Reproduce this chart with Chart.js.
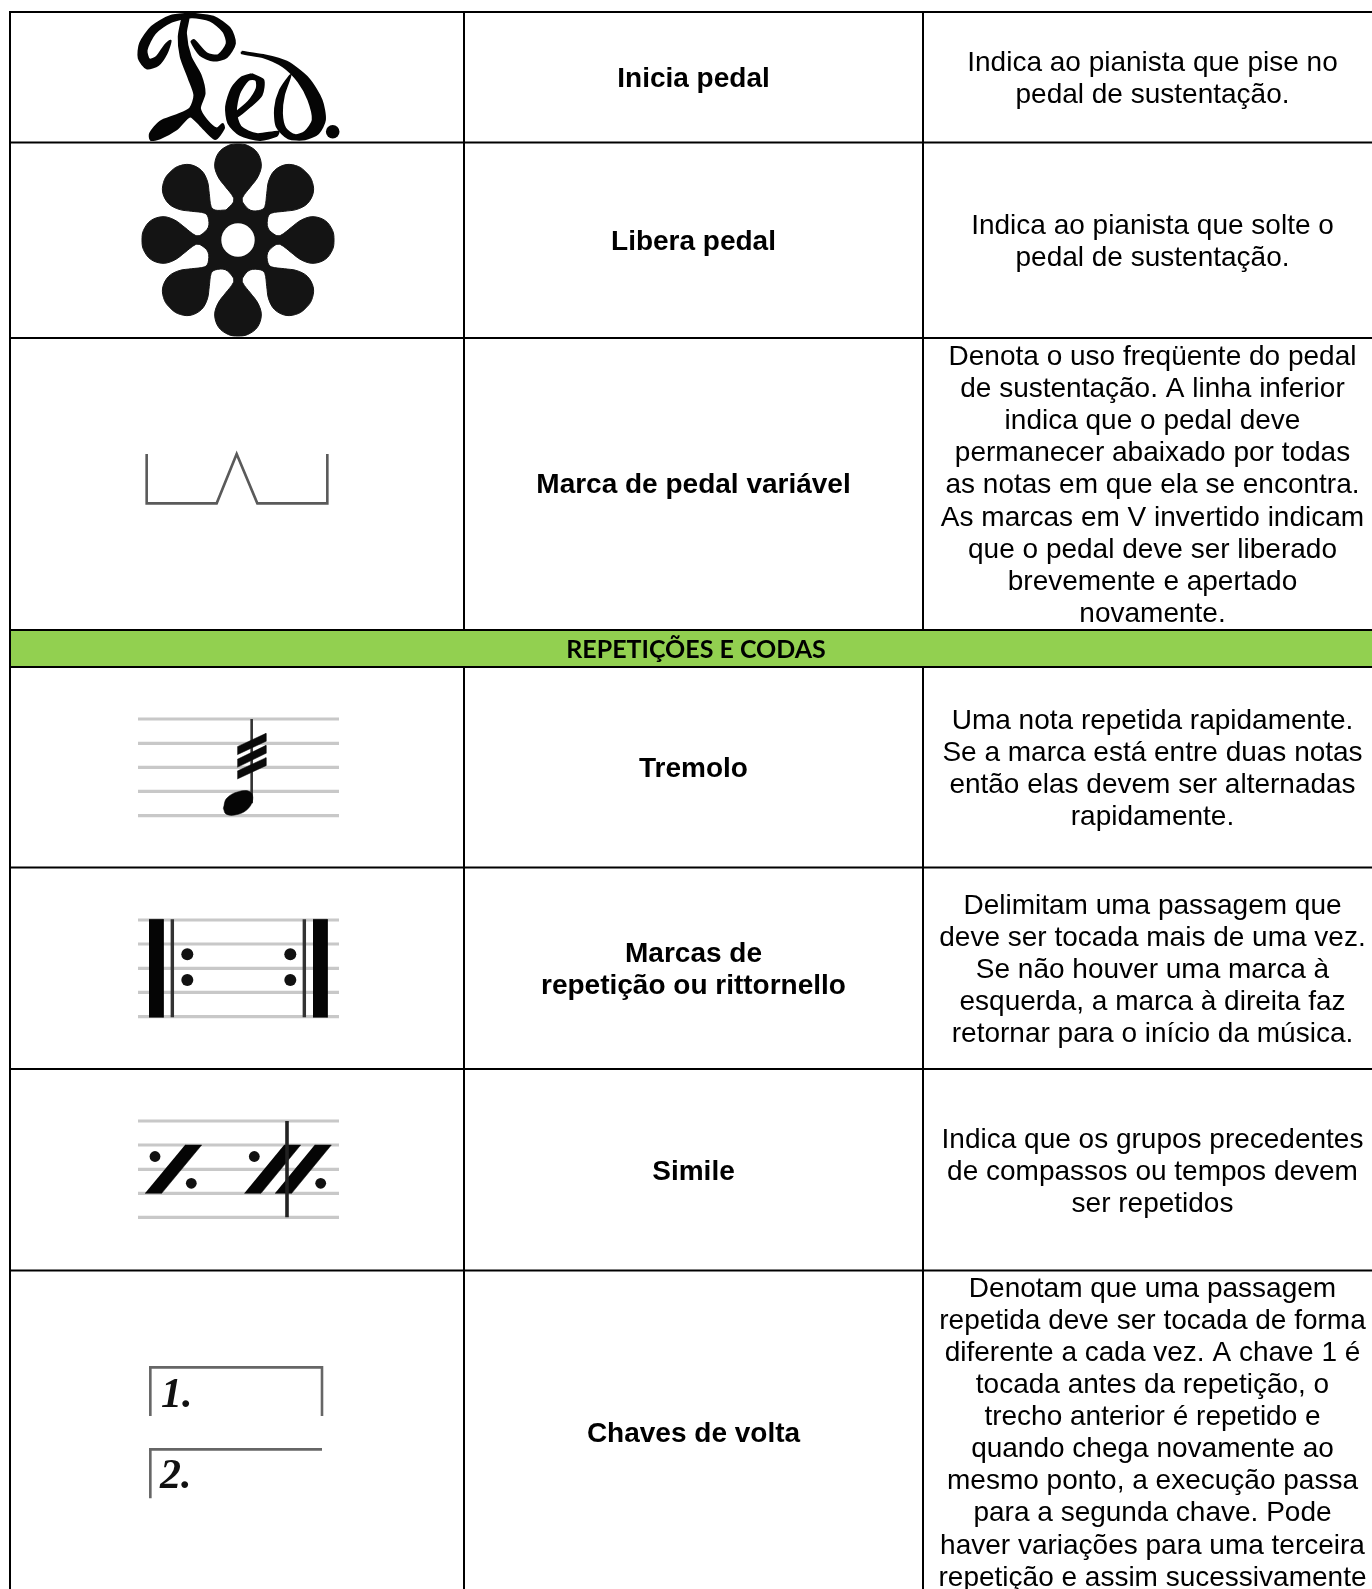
<!DOCTYPE html>
<html>
<head>
<meta charset="utf-8">
<style>
html, body { margin: 0; padding: 0; background: #fff; }
canvas { display: block; }
</style>
<script src="https://cdn.jsdelivr.net/npm/chart.js@4"></script>
</head>
<body>
<canvas id="tabela" width="1372" height="1589"></canvas>
<script>
// table rules
const rowLines = [12, 142.5, 338, 630, 667, 867.5, 1069, 1270.5];
const colLines = [464, 923];
const leftEdge = 10;

// text of the table, one entry per drawn line: [text, middle of the line]
const names = [
  ["Inicia pedal", 79.5], ["Libera pedal", 242], ["Marca de pedal variável", 485],
  ["Tremolo", 769], ["Marcas de", 954.5], ["repetição ou rittornello", 986.5],
  ["Simile", 1172.5], ["Chaves de volta", 1434.5]
];
const bandTitle = ["REPETIÇÕES E CODAS", 650];
const notes = [
  ["Indica ao pianista que pise no", 63.2], ["pedal de sustentação.", 95.2],
  ["Indica ao pianista que solte o", 226], ["pedal de sustentação.", 258],
  ["Denota o uso freqüente do pedal", 357], ["de sustentação. A linha inferior", 389],
  ["indica que o pedal deve", 421], ["permanecer abaixado por todas", 453.5],
  ["as notas em que ela se encontra.", 485.5], ["As marcas em V invertido indicam", 518],
  ["que o pedal deve ser liberado", 550], ["brevemente e apertado", 582], ["novamente.", 614],
  ["Uma nota repetida rapidamente.", 721.5], ["Se a marca está entre duas notas", 753.5],
  ["então elas devem ser alternadas", 785.5], ["rapidamente.", 817.5],
  ["Delimitam uma passagem que", 906], ["deve ser tocada mais de uma vez.", 938],
  ["Se não houver uma marca à", 970], ["esquerda, a marca à direita faz", 1002],
  ["retornar para o início da música.", 1034],
  ["Indica que os grupos precedentes", 1140], ["de compassos ou tempos devem", 1172],
  ["ser repetidos", 1204],
  ["Denotam que uma passagem", 1289], ["repetida deve ser tocada de forma", 1321],
  ["diferente a cada vez. A chave 1 é", 1353], ["tocada antes da repetição, o", 1385],
  ["trecho anterior é repetido e", 1417], ["quando chega novamente ao", 1449],
  ["mesmo ponto, a execução passa", 1481], ["para a segunda chave. Pode", 1513],
  ["haver variações para uma terceira", 1546], ["repetição e assim sucessivamente", 1578]
];

// staves of the three engraved cells
const tremoloStaff = [719, 743.3, 767.3, 791.3, 815.7];
const repeatStaff = [920, 944, 968.3, 992.3, 1016.7];
const simileStaff = [1121, 1145, 1169.3, 1193.3, 1217.3];
const staffFrom = 138, staffTo = 339;

const pedTopLoop = [[0, 0], [572,40],[510,48],[455,80],[420,130],[416,175],[440,205],[475,195],[500,160],[512,122],[495,135],[470,170],[448,178],[440,150],[465,100],[515,65],[575,52],[630,62],[670,95],[680,130],[655,165],[620,160],[582,120],[574,125],[600,165],[640,182],[680,172],[705,130],[690,85],[640,50],[572,40]];
const pedStem = [[0, 0], [548,48],[566,48],[558,100],[572,170],[602,225],[614,280],[600,325],[620,360],[650,385],[668,372],[672,385],[645,417],[600,375],[570,350],[530,388],[480,415],[452,420],[450,400],[480,365],[530,345],[570,325],[583,285],[566,235],[542,170],[536,110],[548,48]];
const pedE = [[0, 0], [755,222],[790,240],[785,285],[750,320],[712,350],[708,338],[745,305],[770,265],[768,240],[745,240],[718,280],[708,335],[722,380],[770,402],[835,395],[830,408],[780,420],[720,405],[685,370],[678,320],[695,265],[725,232],[755,222]];
const pedD = [[0, 0], [725,155],[790,165],[860,185],[925,235],[965,300],[975,360],[955,400],[915,418],[865,415],[830,380],[825,325],[840,270],[872,225],[852,285],[846,340],[856,385],[885,405],[915,395],[938,360],[925,300],[895,245],[850,200],[790,172],[725,160],[725,155]];
const flowerPetal = [[-36,-90],[-15,-112],[-14,-128],[-38,-160],[-60,-190],[-70,-225],[-58,-262],[-28,-284],[0,-288],[28,-284],[58,-262],[70,-225],[60,-190],[38,-160],[14,-128],[15,-112]];
const flowerAngles = [0, 45, 90, 135, 180, 225, 270, 315];
const flowerCentre = [238, 240];

const pedalMark = [[120, 430], [80,72],[80,220],[290,220],[350,72],[412,220],[622,220],[622,72]];
const noteHead = [[120, 430], [310,1135],[320,1105],[355,1085],[390,1085],[398,1110],[380,1140],[345,1155],[318,1152],[310,1135]];
const noteStem = [[120, 430], [395,867],[395,1120]];
const noteBeams = [
  [[120, 430], [352,950],[438,910],[438,934],[352,974]],
  [[120, 430], [352,988],[438,946],[438,970],[352,1012]],
  [[120, 430], [352,1023],[438,983],[438,1007],[352,1047]]
];
const repeatBars = [
  [[120, 900], [87,58],[130,58],[130,352],[87,352]],
  [[120, 900], [579,58],[622,58],[622,352],[579,352]]
];
const repeatThin = [
  [[120, 900], [157,58],[157,352]],
  [[120, 900], [553,58],[553,352]]
];
const repeatDots = [[187.3, 954.3], [187.3, 980], [290.3, 954.3], [290.3, 980]];
const simileSlashes = [
  [[120, 900], [75,880],[125,880],[245,735],[195,735]],
  [[120, 900], [373,880],[423,880],[542,735],[492,735]],
  [[120, 900], [465,880],[515,880],[634,735],[584,735]]
];
const simileCut = [[120, 900], [501,663],[501,952]];
const simileDots = [[155, 1156.5], [191.3, 1183.3], [254.3, 1156.5], [320.7, 1183.3]];
const voltaOne = [[120, 1340], [91,228],[91,82],[606,82],[606,228]];
const voltaTwo = [[120, 1340], [91,475],[91,328],[606,328]];
const voltaNumbers = [["1.", 161, 1407], ["2.", 160, 1488]];
const pedDot = [[332.7, 131.7]];

// crop coordinates back to page units
const fromCrop = g => g.slice(1).map(([x, y]) => ({ x: g[0][0] + x / 3, y: g[0][1] + y / 3 }));

const datasets = [];
const stroke = (data, color, width, tension) => datasets.push({
  data, borderColor: color, borderWidth: width, pointRadius: 0, fill: false, tension: tension || 0,
  borderCapStyle: "butt", borderJoinStyle: "miter"
});
const shape = (data, color, tension, edge) => datasets.push({
  data, borderColor: color, backgroundColor: color, borderWidth: edge || 0.5, pointRadius: 0,
  fill: "shape", tension: tension || 0
});
const dots = (list, color, r) => datasets.push({
  data: list.map(([x, y]) => ({ x, y })), showLine: false, pointRadius: r,
  pointBackgroundColor: color, pointBorderWidth: 0
});

// green band goes under the rules
shape([{ x: leftEdge, y: rowLines[3] }, { x: 1372, y: rowLines[3] }, { x: 1372, y: rowLines[4] }, { x: leftEdge, y: rowLines[4] }], "#92d050");

// staves go under the notation
[tremoloStaff, repeatStaff, simileStaff].forEach(staff => staff.forEach(y =>
  stroke([{ x: staffFrom, y }, { x: staffTo, y }], "#c8c8c8", 3.2)));

// rules
rowLines.forEach(y => stroke([{ x: leftEdge - 1, y }, { x: 1372, y }], "#000", 2));
stroke([{ x: leftEdge, y: rowLines[0] }, { x: leftEdge, y: 1589 }], "#000", 2);
colLines.forEach(x => {
  stroke([{ x, y: rowLines[0] }, { x, y: rowLines[3] }], "#000", 2);
  stroke([{ x, y: rowLines[4] }, { x, y: 1589 }], "#000", 2);
});

// Ped.
[pedTopLoop, pedStem, pedE, pedD].forEach(g => shape(fromCrop(g), "#050505", 0.25, 1.8));
dots(pedDot, "#050505", 6.8);

// flower: one petal outline turned to each angle
const flowerOutline = [];
flowerAngles.forEach(a => {
  const r = a * Math.PI / 180;
  flowerPetal.forEach(([x, y]) => flowerOutline.push({
    x: flowerCentre[0] + (x * Math.cos(r) - y * Math.sin(r)) / 3,
    y: flowerCentre[1] + (x * Math.sin(r) + y * Math.cos(r)) / 3
  }));
});
flowerOutline.push(flowerOutline[0]);
shape(flowerOutline, "#141414", 0.35, 1);
dots([flowerCentre], "#fff", 16.7);

stroke(fromCrop(pedalMark), "#5a5a5a", 2.6);

// tremolo
stroke(fromCrop(noteStem), "#333", 2.6);
shape(fromCrop(noteHead), "#050505", 0.4);
noteBeams.forEach(g => shape(fromCrop(g), "#0a0a0a"));

// repeat marks
repeatBars.forEach(g => shape(fromCrop(g), "#050505"));
repeatThin.forEach(g => stroke(fromCrop(g), "#333", 3.4));
dots(repeatDots, "#111", 6);

// simile
simileSlashes.forEach(g => shape(fromCrop(g), "#050505"));
stroke(fromCrop(simileCut), "#222", 3.6);
dots(simileDots, "#111", 5.4);

// volta brackets
stroke(fromCrop(voltaOne), "#666", 2.6);
stroke(fromCrop(voltaTwo), "#666", 2.6);

// later datasets paint over earlier ones
datasets.forEach((d, i) => { d.order = -i; });

const tableText = {
  id: "tableText",
  afterDatasetsDraw(chart) {
    const { ctx, scales: { x, y } } = chart;
    const put = (text, px, py, font, color) => {
      ctx.font = font;
      ctx.fillStyle = color;
      ctx.fillText(text, x.getPixelForValue(px), y.getPixelForValue(py));
    };
    ctx.save();
    ctx.textAlign = "center";
    ctx.textBaseline = "middle";
    names.forEach(([t, py]) => put(t, 693.5, py, "bold 28px 'Liberation Sans'", "#000"));
    notes.forEach(([t, py]) => put(t, 1152.5, py, "28px 'Liberation Sans'", "#000"));
    put(bandTitle[0], 696, bandTitle[1], "bold 25px Lato", "#000");
    ctx.textAlign = "left";
    ctx.textBaseline = "alphabetic";
    voltaNumbers.forEach(([t, px, py]) => put(t, px, py, "italic bold 42px 'Liberation Serif'", "#111"));
    ctx.restore();
  }
};

new Chart(document.getElementById("tabela"), {
  type: "line",
  data: { datasets },
  options: {
    responsive: false,
    animation: false,
    parsing: { xAxisKey: "x", yAxisKey: "y" },
    layout: { padding: 0, autoPadding: false },
    plugins: { legend: { display: false }, tooltip: { enabled: false }, title: { display: false } },
    scales: {
      x: { type: "linear", min: 0, max: 1372, display: false },
      y: { type: "linear", min: 0, max: 1589, reverse: true, display: false }
    }
  },
  plugins: [tableText]
});
</script>
</body>
</html>
